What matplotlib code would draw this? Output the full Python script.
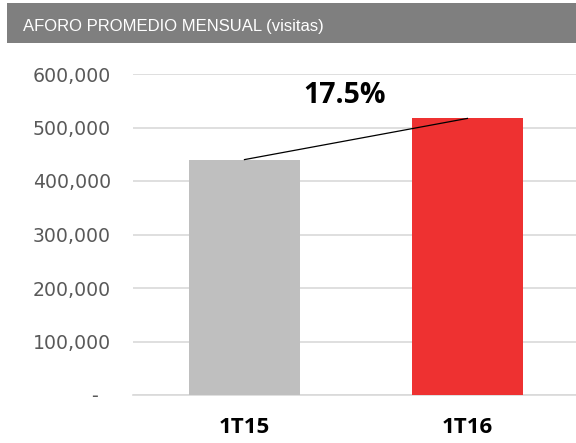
import matplotlib
matplotlib.use("Agg")
import matplotlib.pyplot as plt
from matplotlib.patches import Rectangle

categories = ["1T15", "1T16"]
values = [440000, 517000]
bar_colors = ["#BFBFBF", "#EE3131"]
yticks = [0, 100000, 200000, 300000, 400000, 500000, 600000]
ytick_labels = ["-  ", "100,000", "200,000", "300,000", "400,000", "500,000", "600,000"]
title = "AFORO PROMEDIO MENSUAL (visitas)"
growth_label = "17.5%"

W, H = 576, 443
fig = plt.figure(figsize=(W / 100, H / 100), dpi=100)

# title band
band = Rectangle((7 / W, 1 - 43 / H), 1 - 7 / W, 40 / H, transform=fig.transFigure,
                 facecolor="#7F7F7F", edgecolor="none")
fig.patches.append(band)
fig.text(23 / W, 1 - 27 / H, title, color="white", fontsize=12,
         family=["Liberation Sans", "DejaVu Sans"], va="center", ha="left")

ax = fig.add_axes([133 / W, (H - 395) / H, (W - 133) / W, (395 - 74) / H])
x = list(range(len(categories)))
ax.bar(x, values, width=0.5, color=bar_colors, zorder=3)
ax.set_xlim(-0.5, 1.487)
ax.set_ylim(0, 600000)
ax.set_yticks(yticks)
ax.set_yticklabels(ytick_labels, family=["DejaVu Sans"], fontsize=13.6, color="#595959")
ax.set_xticks(x)
ax.set_xticklabels(categories, family=["Open Sans", "DejaVu Sans"], fontweight="bold",
                   fontsize=16, color="#000000")
ax.tick_params(axis="y", length=0, pad=16)
ax.tick_params(axis="x", length=0, pad=15.5)
ax.grid(axis="y", color="#D9D9D9", linewidth=1.2, zorder=0)
for s in ["top", "right", "left"]:
    ax.spines[s].set_visible(False)
ax.spines["bottom"].set_color("#D9D9D9")
ax.spines["bottom"].set_linewidth(1.2)

# growth line
ax.plot(x, values, color="#000000", linewidth=0.9, zorder=4)
ax.text(0.45, 560000, growth_label, ha="center", va="center",
        family=["Open Sans", "DejaVu Sans"], fontweight="bold", fontsize=20.5, color="#000000")

fig.savefig("out.png", dpi=100)
